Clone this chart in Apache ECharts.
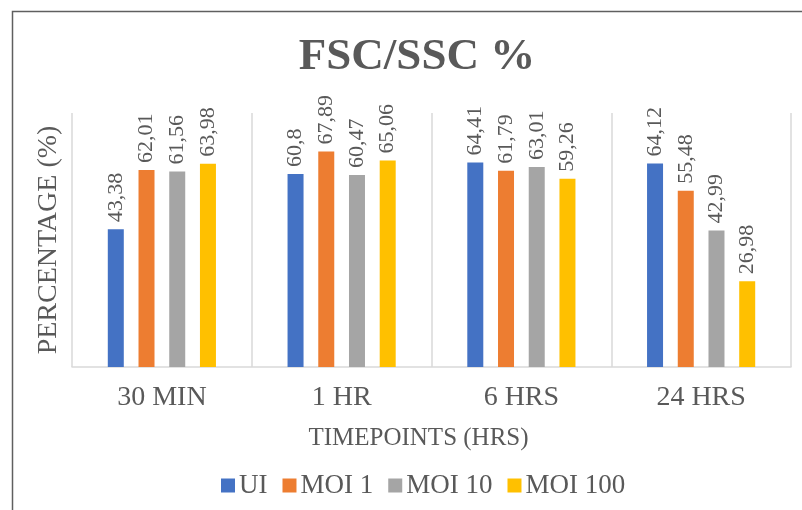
<!DOCTYPE html>
<html>
<head>
<meta charset="utf-8">
<style>
  html, body { margin: 0; padding: 0; background: #fff; }
  #chart { width: 802px; height: 510px; }
</style>
<script src="https://cdn.jsdelivr.net/npm/echarts@6/dist/echarts.min.js"></script>
</head>
<body>
<div id="chart"></div>
<script>
// Timepoints on the category axis
const categories = ['30 MIN', '1 HR', '6 HRS', '24 HRS'];

// FSC/SSC percentage per infection condition
const seriesNames = ['UI', 'MOI 1', 'MOI 10', 'MOI 100'];
const uiValues     = [43.38, 60.80, 64.41, 64.12];
const moi1Values   = [62.01, 67.89, 61.79, 55.48];
const moi10Values  = [61.56, 60.47, 63.01, 42.99];
const moi100Values = [63.98, 65.06, 59.26, 26.98];
const seriesValues = [uiValues, moi1Values, moi10Values, moi100Values];

const colors = ['#4472C4', '#ED7D31', '#A5A5A5', '#FFC000'];
const textColor = '#595959';
const fontFamily = '"Liberation Serif", "Times New Roman", serif';

const chart = echarts.init(document.getElementById('chart'), null, { renderer: 'canvas' });

// Values are printed with a decimal comma
const labelFormatter = p => String(p.value).replace('.', ',');

chart.setOption({
  animation: false,
  backgroundColor: '#ffffff',
  color: colors,
  textStyle: { fontFamily: fontFamily, color: textColor },
  title: {
    text: 'FSC/SSC %',
    left: 412,
    textAlign: 'center',
    top: 30,
    textStyle: { fontFamily: fontFamily, fontSize: 45, fontWeight: 'bold', color: textColor }
  },
  graphic: [{
    type: 'rect',
    shape: { x: 12.5, y: 11.5, width: 830, height: 530 },
    style: { fill: 'none', stroke: '#5f5f5f', lineWidth: 1.5 },
    silent: true
  }],
  legend: {
    data: seriesNames,
    left: 216,
    top: 467,
    itemWidth: 14,
    itemHeight: 14,
    itemGap: 15,
    icon: 'rect',
    textStyle: { fontFamily: fontFamily, fontSize: 27, color: textColor, padding: [0, 0, 0, -1] }
  },
  grid: { left: 72, right: 11, top: 113, bottom: 143, containLabel: false },
  xAxis: {
    type: 'category',
    data: categories,
    boundaryGap: true,
    name: 'TIMEPOINTS (HRS)',
    nameLocation: 'middle',
    nameGap: 59,
    nameTextStyle: { fontFamily: fontFamily, fontSize: 25, color: textColor, padding: [0, 26, 0, 0] },
    axisLine: { show: true, lineStyle: { color: '#d9d9d9', width: 1.5 } },
    axisTick: { show: false },
    splitLine: { show: true, lineStyle: { color: '#d9d9d9', width: 1.5 } },
    axisLabel: { fontFamily: fontFamily, fontSize: 28, color: textColor, margin: 17 }
  },
  yAxis: {
    type: 'value',
    min: 0,
    max: 80,
    name: 'PERCENTAGE (%)',
    nameLocation: 'middle',
    nameGap: 9,
    nameTextStyle: { fontFamily: fontFamily, fontSize: 28, color: textColor },
    axisLine: { show: false },
    axisTick: { show: false },
    axisLabel: { show: false },
    splitLine: { show: false }
  },
  series: seriesNames.map((name, i) => ({
    name: name,
    type: 'bar',
    data: seriesValues[i],
    barWidth: 16,
    barGap: '92%',
    barCategoryGap: '40%',
    itemStyle: { color: colors[i] },
    label: {
      show: true,
      position: 'top',
      rotate: 90,
      align: 'left',
      verticalAlign: 'middle',
      distance: 7,
      fontFamily: fontFamily,
      fontSize: 22,
      color: textColor,
      formatter: labelFormatter
    }
  }))
});
</script>
</body>
</html>
